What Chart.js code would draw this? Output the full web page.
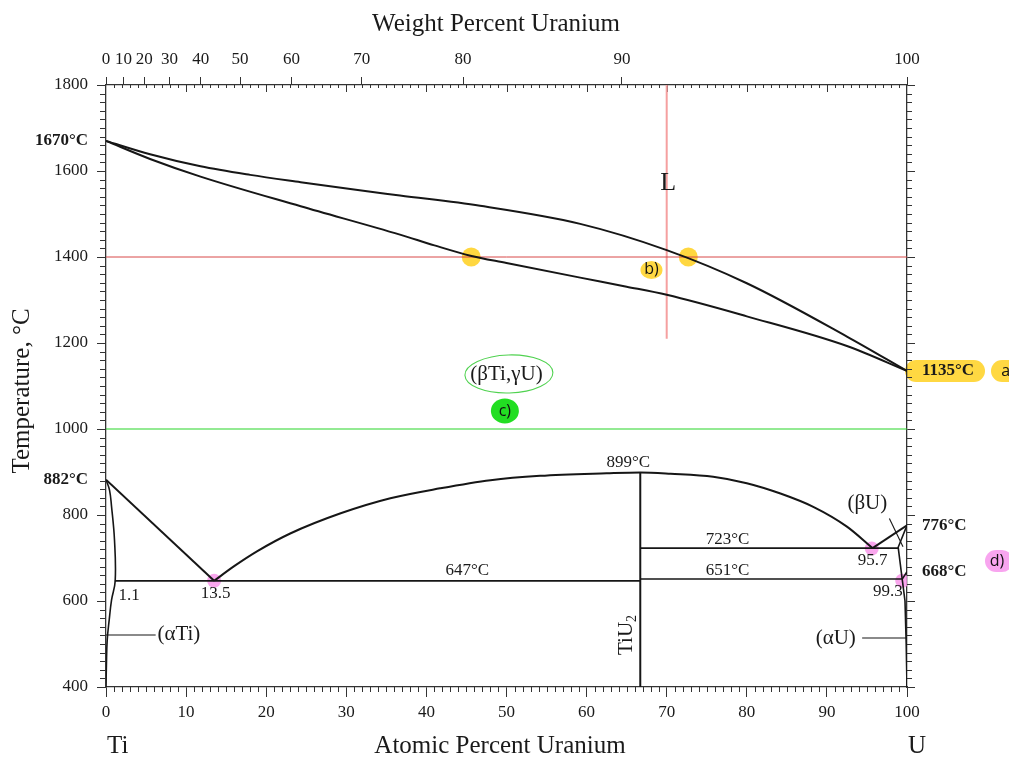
<!DOCTYPE html>
<html><head><meta charset="utf-8">
<script src="https://cdn.jsdelivr.net/npm/chart.js"></script>
<style>html,body{margin:0;padding:0;background:#fff;}#wrap{width:1009px;height:757px;}</style>
</head><body><div id="wrap"><canvas id="c" width="1009" height="757"></canvas></div>
<script>
// ---------- data (atomic % U, temperature °C) ----------
const liquidusX = [0, 5.5, 11.8, 18, 24.3, 30.5, 36.7, 46.7, 59.2, 70, 80, 92.5, 100];
const liquidusT = [1670, 1639, 1611, 1591, 1574, 1558, 1543, 1519, 1477, 1416, 1339, 1215, 1135];
const solidusX  = [0, 5.5, 11.8, 24.3, 36.7, 41, 45.5, 50, 59.2, 65, 70, 80, 92.5, 100];
const solidusT  = [1670, 1628, 1587, 1518, 1452, 1427, 1403, 1386, 1352, 1331, 1312, 1262, 1193, 1135];
const betaTiLineX = [0, 13.5];
const betaTiLineT = [882, 647];
const domeX = [13.5, 16, 18.9, 23.0, 29.3, 35.5, 41.7, 48.0, 54.2, 62.5, 66.7, 70.5, 75.8, 80.0, 84.2, 88.3, 92.5, 95.7];
const domeT = [647, 681, 716, 757, 804, 839, 862, 881, 891, 897, 899, 896, 889, 874, 850, 819, 773, 723];
const alphaTiX = [0, 0.44, 0.69, 1.06, 1.15, 0.69, 0.4, 0.15, 0.05, 0];
const alphaTiT = [882, 858, 820, 742, 647, 602, 556, 509, 450, 400];
const tiU2X = [66.7, 66.7];
const tiU2T = [400, 899];
const eut647X = [1.1, 66.7];
const eut647T = [647, 647];
const iso723X = [66.7, 98.9];
const iso723T = [723, 723];
const iso651X = [66.7, 99.5];
const iso651T = [651, 651];
const betaULeftX = [95.7, 100];
const betaULeftT = [723, 776];
const betaURightX = [100, 98.9, 99.4];
const betaURightT = [776, 725, 651];
const alphaUTransX = [99.4, 100];
const alphaUTransT = [651, 668];
const alphaUSolvusX = [99.4, 99.75, 99.9, 100];
const alphaUSolvusT = [651, 600, 500, 400];
const leaderAlphaTiX = [0, 6.2];
const leaderAlphaTiT = [521, 521];
const leaderAlphaUX = [94.4, 100];
const leaderAlphaUT = [514, 514];
const leaderBetaUX = [97.8, 99.5];
const leaderBetaUT = [792, 726];
// hand-drawn markings
const redVertX = [70, 70];
const redVertT = [1800, 1210];
const line1400X = [0, 100];
const line1400T = [1400, 1400];
const line1000X = [0, 100];
const line1000T = [1000, 1000];
const yellowMarkX = [45.6, 72.7];
const yellowMarkT = [1400, 1400];
const pinkMarkX = [13.5, 95.6, 99.4];
const pinkMarkT = [647, 722, 647];
// ticks
const atomicTicks = [0,10,20,30,40,50,60,70,80,90,100];
const wtPercentTicks = [0,10,20,30,40,50,60,70,80,90,100];
const tempTicks = [400,600,800,1000,1200,1400,1600,1800];
const leftSpecialTemps = [882, 1670];
const rightSpecialTemps = [668, 776, 1135];

const M_U = 238.03, M_TI = 47.867;
const wtToAt = w => { if (w >= 100) return 100; const u = w / M_U, t = (100 - w) / M_TI; return 100 * u / (u + t); };
const wtTickPositions = wtPercentTicks.map(wtToAt);

const SERIF = "'Liberation Serif','Times New Roman',Times,serif";
const SANS = "'Open Sans','Liberation Sans',Arial,sans-serif";
const INK = '#161616';

const pts = (xs, ts) => xs.map((x, i) => ({x: x, y: ts[i]}));
function lineDs(xs, ts, w, extra) {
  return Object.assign({data: pts(xs, ts), showLine: true, borderColor: INK, borderWidth: w,
    pointRadius: 0, fill: false, tension: 0, order: 1}, extra || {});
}

const datasets = [
  lineDs(line1400X, line1400T, 1, {borderColor: 'rgb(216,72,72)', order: 3}),
  lineDs(line1000X, line1000T, 1.2, {borderColor: 'rgb(40,214,40)', order: 3}),
  lineDs(redVertX, redVertT, 2, {borderColor: 'rgb(245,160,160)', order: 3}),
  {data: pts(yellowMarkX, yellowMarkT), pointRadius: 9.5, pointBackgroundColor: 'rgba(255,212,48,0.92)', pointBorderWidth: 0, showLine: false, order: 5},
  {data: pts(pinkMarkX, pinkMarkT), pointRadius: 7, pointBackgroundColor: 'rgba(248,150,234,0.85)', pointBorderWidth: 0, showLine: false, order: 5},
  lineDs(liquidusX, liquidusT, 2, {cubicInterpolationMode: 'monotone'}),
  lineDs(solidusX, solidusT, 2, {cubicInterpolationMode: 'monotone'}),
  lineDs(betaTiLineX, betaTiLineT, 2),
  lineDs(domeX, domeT, 2, {cubicInterpolationMode: 'monotone'}),
  lineDs(alphaTiX, alphaTiT, 1.6, {tension: 0.4}),
  lineDs(tiU2X, tiU2T, 2),
  lineDs(eut647X, eut647T, 1.8),
  lineDs(iso723X, iso723T, 1.6),
  lineDs(iso651X, iso651T, 1.6),
  lineDs(betaULeftX, betaULeftT, 2),
  lineDs(betaURightX, betaURightT, 1.6),
  lineDs(alphaUTransX, alphaUTransT, 1.6),
  lineDs(alphaUSolvusX, alphaUSolvusT, 1.6),
  lineDs(leaderAlphaTiX, leaderAlphaTiT, 1.1),
  lineDs(leaderAlphaUX, leaderAlphaUT, 1.1),
  lineDs(leaderBetaUX, leaderBetaUT, 1.1)
];

// text annotations (data coordinates)
const smallLabels = [
  ['899°C', 65.2, 921], ['723°C', 77.6, 744], ['651°C', 77.6, 672], ['647°C', 45.1, 670],
  ['95.7', 95.7, 695], ['99.3', 97.6, 622], ['13.5', 13.7, 618], ['1.1', 2.9, 612]
];
const phaseLabels = [
  ['(αTi)', 9.1, 521], ['(αU)', 91.1, 513], ['(βU)', 95.05, 827], ['(βTi,γU)', 50.0, 1126]
];

function roundBlob(ctx, cx, cy, w, h, color) {
  ctx.save(); ctx.fillStyle = color; ctx.beginPath();
  ctx.ellipse(cx, cy, w / 2, h / 2, 0, 0, Math.PI * 2); ctx.fill(); ctx.restore();
}
function pill(ctx, x0, x1, cy, h, color) {
  const r = h / 2;
  ctx.save(); ctx.fillStyle = color; ctx.beginPath();
  ctx.moveTo(x0 + r, cy - r); ctx.lineTo(x1 - r, cy - r);
  ctx.arc(x1 - r, cy, r, -Math.PI / 2, Math.PI / 2);
  ctx.lineTo(x0 + r, cy + r);
  ctx.arc(x0 + r, cy, r, Math.PI / 2, Math.PI * 1.5);
  ctx.fill(); ctx.restore();
}

const decor = {
  id: 'decor',
  beforeDraw(chart) {
    const ctx = chart.ctx, X = chart.scales.x, Y = chart.scales.y;
    const px = v => X.getPixelForValue(v), py = v => Y.getPixelForValue(v);
    const yellow = 'rgba(255,214,56,0.95)';
    pill(ctx, px(100) - 2, px(100) + 78, py(1135), 22, yellow);
    pill(ctx, px(100) + 84, px(100) + 112, py(1135), 22, yellow);
    roundBlob(ctx, px(68.1), py(1370), 22, 18, yellow);
    roundBlob(ctx, px(49.8), py(1042), 28, 25, 'rgb(34,222,34)');
    pill(ctx, px(100) + 78, px(100) + 106, py(693), 22, 'rgba(248,160,238,0.95)');
  },
  beforeDatasetsDraw(chart) {
    const ctx = chart.ctx, X = chart.scales.x, Y = chart.scales.y;
    const a = chart.chartArea;
    ctx.save(); ctx.strokeStyle = '#333'; ctx.lineWidth = 1;
    ctx.beginPath();
    for (let i = 1; i < 100; i++) {
      const p = Math.round(X.getPixelForValue(i)) + 0.5;
      if (i % 10 !== 0) { ctx.moveTo(p, a.bottom); ctx.lineTo(p, a.bottom + 5); }
      const inner = (i % 10 === 0) ? 7 : 3;
      ctx.moveTo(p, a.top); ctx.lineTo(p, a.top + inner);
    }
    for (let t = 420; t < 1800; t += 20) {
      if (t % 200 === 0) continue;
      const p = Math.round(Y.getPixelForValue(t)) + 0.5;
      ctx.moveTo(a.left - 6, p); ctx.lineTo(a.left, p);
      ctx.moveTo(a.right, p); ctx.lineTo(a.right + 5, p);
    }
    ctx.stroke();
    // green ring around the (βTi,γU) label
    ctx.strokeStyle = 'rgb(80,210,80)'; ctx.lineWidth = 1.1;
    ctx.beginPath();
    ctx.ellipse(X.getPixelForValue(50.3), Y.getPixelForValue(1128), 44, 19, -0.03, 0, Math.PI * 2);
    ctx.stroke();
    ctx.restore();
  },
  afterDraw(chart) {
    const ctx = chart.ctx, X = chart.scales.x, Y = chart.scales.y;
    const px = v => X.getPixelForValue(v), py = v => Y.getPixelForValue(v);
    ctx.save();
    ctx.fillStyle = '#1a1a1a';
    ctx.textAlign = 'center'; ctx.textBaseline = 'middle';
    ctx.font = '17px ' + SERIF;
    smallLabels.forEach(l => ctx.fillText(l[0], px(l[1]), py(l[2])));
    ctx.font = '21px ' + SERIF;
    phaseLabels.forEach(l => ctx.fillText(l[0], px(l[1]), py(l[2])));
    ctx.font = '26px ' + SERIF;
    ctx.fillText('L', px(70.2), py(1572));
    // TiU2 rotated
    ctx.save();
    ctx.translate(px(64.8), py(521));
    ctx.rotate(-Math.PI / 2);
    ctx.font = '21px ' + SERIF;
    const w1 = ctx.measureText('TiU').width;
    ctx.font = '14px ' + SERIF;
    const w2 = ctx.measureText('2').width;
    const start = -(w1 + w2) / 2;
    ctx.textAlign = 'left'; ctx.textBaseline = 'alphabetic';
    ctx.font = '21px ' + SERIF;
    ctx.fillText('TiU', start, 7);
    ctx.font = '14px ' + SERIF;
    ctx.fillText('2', start + w1, 11);
    ctx.restore();
    // titles
    ctx.textBaseline = 'alphabetic';
    ctx.font = '25px ' + SERIF;
    ctx.textAlign = 'center';
    ctx.fillText('Weight Percent Uranium', 496, 31);
    ctx.fillText('Atomic Percent Uranium', 500, 753);
    ctx.textAlign = 'left';
    ctx.fillText('Ti', px(0) + 1, 753);
    ctx.fillText('U', px(100) + 1, 753);
    ctx.save();
    ctx.translate(29, 391); ctx.rotate(-Math.PI / 2);
    ctx.textAlign = 'center';
    ctx.fillText('Temperature, °C', 0, 0);
    ctx.restore();
    // hand-written markers
    ctx.font = '16px ' + SANS; ctx.textAlign = 'center'; ctx.textBaseline = 'middle';
    ctx.fillStyle = '#111';
    ctx.fillText('b)', px(68.1), py(1370));
    ctx.fillText('c)', px(49.8), py(1042));
    ctx.fillText('a)', px(100) + 101, py(1135));
    ctx.fillText('d)', px(100) + 90, py(693));
    ctx.restore();
  }
};

const tickFont = {family: SERIF, size: 17};
new Chart(document.getElementById('c'), {
  type: 'scatter',
  data: {datasets: datasets},
  plugins: [decor],
  options: {
    responsive: false, animation: false, devicePixelRatio: 1, events: [],
    layout: {padding: 0},
    plugins: {legend: {display: false}, tooltip: {enabled: false}, title: {display: false}},
    scales: {
      x: {
        type: 'linear', position: 'bottom', min: 0, max: 100,
        afterBuildTicks: s => { s.ticks = atomicTicks.map(v => ({value: v})); },
        ticks: {autoSkip: false, maxRotation: 0, padding: 5, color: '#1a1a1a', font: tickFont},
        grid: {drawOnChartArea: false, tickLength: 10, tickColor: '#333', tickWidth: 1},
        border: {display: true, color: '#333', width: 1.3},
        afterFit: s => { s.height = 70; }
      },
      x2: {
        type: 'linear', position: 'top', min: 0, max: 100,
        afterBuildTicks: s => { s.ticks = wtTickPositions.map(v => ({value: v})); },
        ticks: {autoSkip: false, maxRotation: 0, padding: 7, color: '#1a1a1a', font: tickFont,
          callback: (v, i) => String(wtPercentTicks[i])},
        grid: {drawOnChartArea: false, tickLength: 8, tickColor: '#333', tickWidth: 1},
        border: {display: true, color: '#333', width: 1.3},
        afterFit: s => { s.height = 85; }
      },
      y: {
        type: 'linear', position: 'left', min: 400, max: 1800,
        afterBuildTicks: s => { s.ticks = tempTicks.concat(leftSpecialTemps).sort((a, b) => a - b).map(v => ({value: v})); },
        ticks: {autoSkip: false, padding: 9, color: '#1a1a1a',
          font: c => (c.tick && leftSpecialTemps.includes(c.tick.value)) ? {family: SERIF, size: 17, weight: 'bold'} : tickFont,
          callback: v => leftSpecialTemps.includes(v) ? v + '°C' : String(v)},
        grid: {drawOnChartArea: false, tickLength: 9, tickWidth: 1,
          tickColor: c => (c.tick && leftSpecialTemps.includes(c.tick.value)) ? 'rgba(0,0,0,0)' : '#333'},
        border: {display: true, color: '#333', width: 1.3},
        afterFit: s => { s.width = 106; }
      },
      y2: {
        type: 'linear', position: 'right', min: 400, max: 1800,
        afterBuildTicks: s => { s.ticks = tempTicks.concat(rightSpecialTemps).sort((a, b) => a - b).map(v => ({value: v})); },
        ticks: {autoSkip: false, padding: 7, color: '#1a1a1a',
          font: {family: SERIF, size: 17, weight: 'bold'},
          callback: v => rightSpecialTemps.includes(v) ? v + '°C' : ''},
        grid: {drawOnChartArea: false, tickLength: 8, tickWidth: 1,
          tickColor: c => (c.tick && rightSpecialTemps.includes(c.tick.value)) ? 'rgba(0,0,0,0)' : '#333'},
        border: {display: true, color: '#333', width: 1.3},
        afterFit: s => { s.width = 102; }
      }
    }
  }
});
</script>
</body></html>
